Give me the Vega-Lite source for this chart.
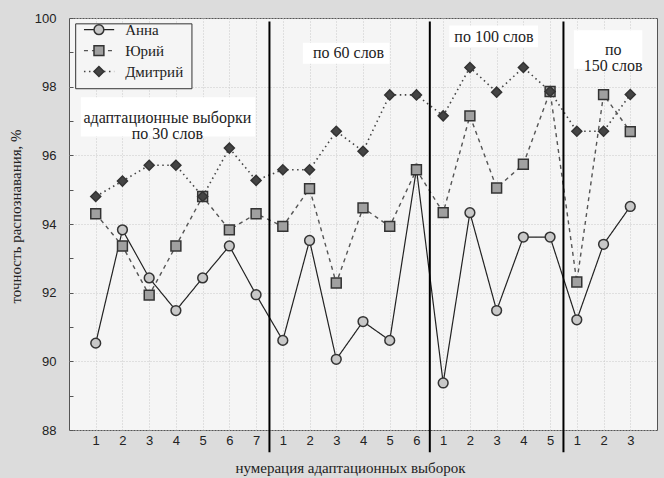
{
  "$schema": "https://vega.github.io/schema/vega-lite/v6.json",
  "width": 588,
  "height": 412,
  "autosize": {"type": "none"},
  "padding": {"left": 69, "top": 18, "right": 7, "bottom": 48},
  "background": "#dcdcdc",
  "config": {
    "view": {"fill": "#f5f5f5", "stroke": "#555", "strokeWidth": 1},
    "axis": {
      "labelFont": "Liberation Sans", "labelFontSize": 13, "labelColor": "#222",
      "titleFont": "Liberation Serif", "titleFontSize": 15, "titleFontWeight": "normal", "titleColor": "#222",
      "domain": false, "gridColor": "#c8c8c8", "gridDash": [1, 2]
    }
  },
  "datasets": {
    "main": [
      {"s": "Анна", "i": 1, "v": 90.53}, {"s": "Анна", "i": 2, "v": 93.83}, {"s": "Анна", "i": 3, "v": 92.43},
      {"s": "Анна", "i": 4, "v": 91.48}, {"s": "Анна", "i": 5, "v": 92.43}, {"s": "Анна", "i": 6, "v": 93.36},
      {"s": "Анна", "i": 7, "v": 91.94}, {"s": "Анна", "i": 8, "v": 90.61}, {"s": "Анна", "i": 9, "v": 93.52},
      {"s": "Анна", "i": 10, "v": 90.06}, {"s": "Анна", "i": 11, "v": 91.16}, {"s": "Анна", "i": 12, "v": 90.61},
      {"s": "Анна", "i": 13, "v": 95.6}, {"s": "Анна", "i": 14, "v": 89.37}, {"s": "Анна", "i": 15, "v": 94.33},
      {"s": "Анна", "i": 16, "v": 91.48}, {"s": "Анна", "i": 17, "v": 93.62}, {"s": "Анна", "i": 18, "v": 93.62},
      {"s": "Анна", "i": 19, "v": 91.21}, {"s": "Анна", "i": 20, "v": 93.41}, {"s": "Анна", "i": 21, "v": 94.51},
      {"s": "Юрий", "i": 1, "v": 94.3}, {"s": "Юрий", "i": 2, "v": 93.36}, {"s": "Юрий", "i": 3, "v": 91.93},
      {"s": "Юрий", "i": 4, "v": 93.36}, {"s": "Юрий", "i": 5, "v": 94.8}, {"s": "Юрий", "i": 6, "v": 93.83},
      {"s": "Юрий", "i": 7, "v": 94.3}, {"s": "Юрий", "i": 8, "v": 93.93}, {"s": "Юрий", "i": 9, "v": 95.03},
      {"s": "Юрий", "i": 10, "v": 92.28}, {"s": "Юрий", "i": 11, "v": 94.47}, {"s": "Юрий", "i": 12, "v": 93.93},
      {"s": "Юрий", "i": 13, "v": 95.58}, {"s": "Юрий", "i": 14, "v": 94.33}, {"s": "Юрий", "i": 15, "v": 97.15},
      {"s": "Юрий", "i": 16, "v": 95.05}, {"s": "Юрий", "i": 17, "v": 95.74}, {"s": "Юрий", "i": 18, "v": 97.86},
      {"s": "Юрий", "i": 19, "v": 92.31}, {"s": "Юрий", "i": 20, "v": 97.77}, {"s": "Юрий", "i": 21, "v": 96.69},
      {"s": "Дмитрий", "i": 1, "v": 94.8}, {"s": "Дмитрий", "i": 2, "v": 95.25}, {"s": "Дмитрий", "i": 3, "v": 95.71},
      {"s": "Дмитрий", "i": 4, "v": 95.71}, {"s": "Дмитрий", "i": 5, "v": 94.8}, {"s": "Дмитрий", "i": 6, "v": 96.21},
      {"s": "Дмитрий", "i": 7, "v": 95.27}, {"s": "Дмитрий", "i": 8, "v": 95.58}, {"s": "Дмитрий", "i": 9, "v": 95.58},
      {"s": "Дмитрий", "i": 10, "v": 96.7}, {"s": "Дмитрий", "i": 11, "v": 96.12}, {"s": "Дмитрий", "i": 12, "v": 97.76},
      {"s": "Дмитрий", "i": 13, "v": 97.76}, {"s": "Дмитрий", "i": 14, "v": 97.15}, {"s": "Дмитрий", "i": 15, "v": 98.56},
      {"s": "Дмитрий", "i": 16, "v": 97.84}, {"s": "Дмитрий", "i": 17, "v": 98.56}, {"s": "Дмитрий", "i": 18, "v": 97.86},
      {"s": "Дмитрий", "i": 19, "v": 96.7}, {"s": "Дмитрий", "i": 20, "v": 96.7}, {"s": "Дмитрий", "i": 21, "v": 97.77}
    ],
    "sep": [{"b": 7.5}, {"b": 13.5}, {"b": 18.5}],
    "notes": [
      {"t": "адаптационные выборки\nпо 30 слов", "x1": 0.44, "x2": 6.97, "y1": 97.69, "y2": 96.55, "tx": 3.68, "ty": 97.1},
      {"t": "по 60 слов", "x1": 8.75, "x2": 11.99, "y1": 99.28, "y2": 98.67, "tx": 10.46, "ty": 98.97},
      {"t": "по 100 слов", "x1": 14.23, "x2": 17.55, "y1": 99.78, "y2": 99.15, "tx": 15.9, "ty": 99.46},
      {"t": "по\n150 слов", "x1": 18.89, "x2": 21.45, "y1": 99.64, "y2": 98.52, "tx": 20.36, "ty": 99.07}
    ],
    "legend": [
      {"s": "Анна", "ly": 99.66},
      {"s": "Юрий", "ly": 99.05},
      {"s": "Дмитрий", "ly": 98.44}
    ]
  },
  "encoding": {
    "x": {
      "type": "quantitative",
      "scale": {"domain": [0, 22], "nice": false, "zero": false},
      "axis": {
        "values": [1,2,3,4,5,6,7,8,9,10,11,12,13,14,15,16,17,18,19,20,21],
        "labelExpr": "datum.value <= 7 ? datum.value : datum.value <= 13 ? datum.value - 7 : datum.value <= 18 ? datum.value - 13 : datum.value - 18",
        "labelOverlap": false,
        "ticks": false, "labelPadding": 4,
        "title": "нумерация адаптационных выборок",
        "titleX": 281, "titleY": 37, "titleBaseline": "middle", "titleAnchor": "middle", "titleAlign": "center"
      }
    },
    "y": {
      "type": "quantitative",
      "scale": {"domain": [88, 100], "nice": false, "zero": false},
      "axis": {
        "values": [88,89,90,91,92,93,94,95,96,97,98,99,100],
        "labelExpr": "datum.value % 2 == 0 ? datum.label : ''",
        "gridOpacity": {"condition": {"test": "datum.value % 2 == 0", "value": 1}, "value": 0},
        "tickSize": -4, "tickColor": "#555", "labelPadding": 17,
        "title": "точность распознавания, %",
        "titleX": -54, "titleY": 198, "titleAngle": -90, "titleBaseline": "middle", "titleAlign": "center"
      }
    }
  },
  "layer": [
    {
      "data": {"name": "main"},
      "mark": {"type": "line"},
      "encoding": {
        "x": {"field": "i", "type": "quantitative"},
        "y": {"field": "v", "type": "quantitative"},
        "strokeDash": {
          "field": "s", "type": "nominal",
          "scale": {"domain": ["Анна", "Юрий", "Дмитрий"], "range": [[1, 0], [4, 4], [1.5, 3.5]]},
          "legend": null
        },
        "stroke": {
          "field": "s", "type": "nominal",
          "scale": {"domain": ["Анна", "Юрий", "Дмитрий"], "range": ["#222", "#555", "#444"]},
          "legend": null
        },
        "strokeWidth": {
          "field": "s", "type": "nominal",
          "scale": {"domain": ["Анна", "Юрий", "Дмитрий"], "range": [1.2, 1.6, 1.6]},
          "legend": null
        },
        "order": {"field": "i"}
      }
    },
    {
      "data": {"name": "main"},
      "mark": {"type": "point", "filled": true, "stroke": "#333", "strokeWidth": 1.5, "opacity": 1},
      "encoding": {
        "x": {"field": "i", "type": "quantitative"},
        "y": {"field": "v", "type": "quantitative"},
        "shape": {
          "field": "s", "type": "nominal",
          "scale": {"domain": ["Анна", "Юрий", "Дмитрий"], "range": ["circle", "square", "diamond"]},
          "legend": null
        },
        "fill": {
          "field": "s", "type": "nominal",
          "scale": {"domain": ["Анна", "Юрий", "Дмитрий"], "range": ["#c8c8c8", "#a0a0a0", "#444444"]},
          "legend": null
        },
        "size": {
          "field": "s", "type": "nominal",
          "scale": {"domain": ["Анна", "Юрий", "Дмитрий"], "range": [95, 100, 140]},
          "legend": null
        }
      }
    },
    {
      "data": {"name": "notes"},
      "mark": {"type": "rect", "fill": "white", "stroke": null},
      "encoding": {
        "x": {"field": "x1", "type": "quantitative"},
        "x2": {"field": "x2"},
        "y": {"field": "y1", "type": "quantitative"},
        "y2": {"field": "y2"}
      }
    },
    {
      "data": {"name": "notes"},
      "mark": {"type": "text", "font": "Liberation Serif", "fontSize": 16, "color": "#222", "align": "center", "baseline": "middle", "lineBreak": "\n", "lineHeight": 16},
      "encoding": {
        "x": {"field": "tx", "type": "quantitative"},
        "y": {"field": "ty", "type": "quantitative"},
        "text": {"field": "t"}
      }
    },
    {
      "data": {"name": "sep"},
      "mark": {"type": "rule", "color": "#000", "strokeWidth": 2},
      "encoding": {
        "x": {"field": "b", "type": "quantitative"},
        "y": {"datum": 99.9, "type": "quantitative"},
        "y2": {"datum": 87.35}
      }
    },
    {
      "data": {"values": [{}]},
      "mark": {"type": "rect", "fill": "#f5f5f5", "stroke": "#333", "strokeWidth": 1},
      "encoding": {
        "x": {"datum": 0.25, "type": "quantitative"},
        "x2": {"datum": 4.6},
        "y": {"datum": 99.83, "type": "quantitative"},
        "y2": {"datum": 97.94}
      }
    },
    {
      "data": {"name": "legend"},
      "mark": {"type": "rule"},
      "encoding": {
        "x": {"datum": 0.56, "type": "quantitative"},
        "x2": {"datum": 1.69},
        "y": {"field": "ly", "type": "quantitative"},
        "strokeDash": {"field": "s", "type": "nominal", "legend": null},
        "stroke": {"field": "s", "type": "nominal", "legend": null},
        "strokeWidth": {"field": "s", "type": "nominal", "legend": null}
      }
    },
    {
      "data": {"name": "legend"},
      "mark": {"type": "point", "filled": true, "stroke": "#333", "strokeWidth": 1.5, "opacity": 1},
      "encoding": {
        "x": {"datum": 1.12, "type": "quantitative"},
        "y": {"field": "ly", "type": "quantitative"},
        "shape": {"field": "s", "type": "nominal", "legend": null},
        "fill": {"field": "s", "type": "nominal", "legend": null},
        "size": {"field": "s", "type": "nominal", "legend": null}
      }
    },
    {
      "data": {"name": "legend"},
      "mark": {"type": "text", "font": "Liberation Serif", "fontSize": 15, "color": "#222", "align": "left", "baseline": "middle"},
      "encoding": {
        "x": {"datum": 2.1, "type": "quantitative"},
        "y": {"field": "ly", "type": "quantitative"},
        "text": {"field": "s"}
      }
    }
  ]
}
